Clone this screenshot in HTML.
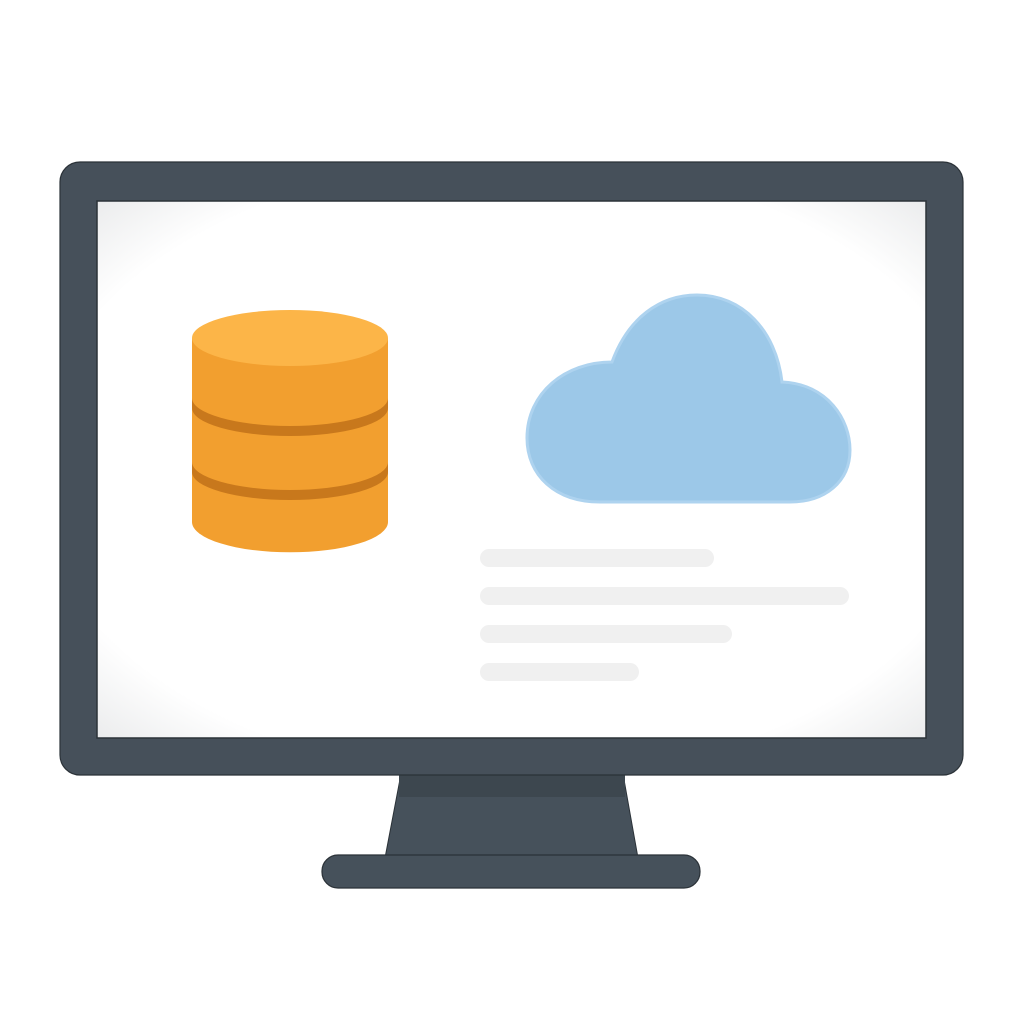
<!DOCTYPE html>
<html><head><meta charset="utf-8"><style>
html,body{margin:0;padding:0;background:#fff;}
svg{display:block;}
</style></head><body>
<svg width="1024" height="1024" viewBox="0 0 1024 1024" xmlns="http://www.w3.org/2000/svg">
<defs>
<radialGradient id="scr" cx="50%" cy="50%" r="72%">
<stop offset="0.8" stop-color="#ffffff"/><stop offset="1" stop-color="#e9eaeb"/>
</radialGradient>
</defs>
<polygon points="401,774 623,774 638,858 385,858" fill="#46515b" stroke="#2b3238" stroke-width="1"/>
<rect x="399" y="775" width="226" height="22" fill="#3d474f"/>
<rect x="322" y="855" width="378" height="33" rx="16" fill="#46515b" stroke="#2b3238" stroke-width="1.2"/>
<rect x="60" y="162" width="903" height="613" rx="20" fill="#46505a" stroke="#2b3238" stroke-width="1.2"/>
<rect x="97" y="201" width="829" height="537" fill="url(#scr)" stroke="#2b3238" stroke-width="1.5"/>
<g>
<path d="M192,338 L192,522 A97,30 0 0 0 388,522 L388,338 Z" fill="#f29f2f"/>
<path d="M192,398 A98,28 0 0 0 388,398 L388,408 A98,28 0 0 1 192,408 Z" fill="#c8781c"/>
<path d="M192,462 A98,28 0 0 0 388,462 L388,472 A98,28 0 0 1 192,472 Z" fill="#c8781c"/>
<ellipse cx="290" cy="338" rx="98" ry="28" fill="#fcb548"/>
</g>
<path d="M612,362 C628,318 660,295 697,295 C742,295 776,330 782,382 C828,384 850,420 850,450 C850,482 825,502 790,502 L600,502 C555,502 527,475 527,438 C527,393 565,362 612,362 Z" fill="#9cc8e8" stroke="#aed3ef" stroke-width="3"/>
<g fill="#f0f0f0">
<rect x="480" y="549" width="234" height="18" rx="9"/>
<rect x="480" y="587" width="369" height="18" rx="9"/>
<rect x="480" y="625" width="252" height="18" rx="9"/>
<rect x="480" y="663" width="159" height="18" rx="9"/>
</g>
</svg>
</body></html>
